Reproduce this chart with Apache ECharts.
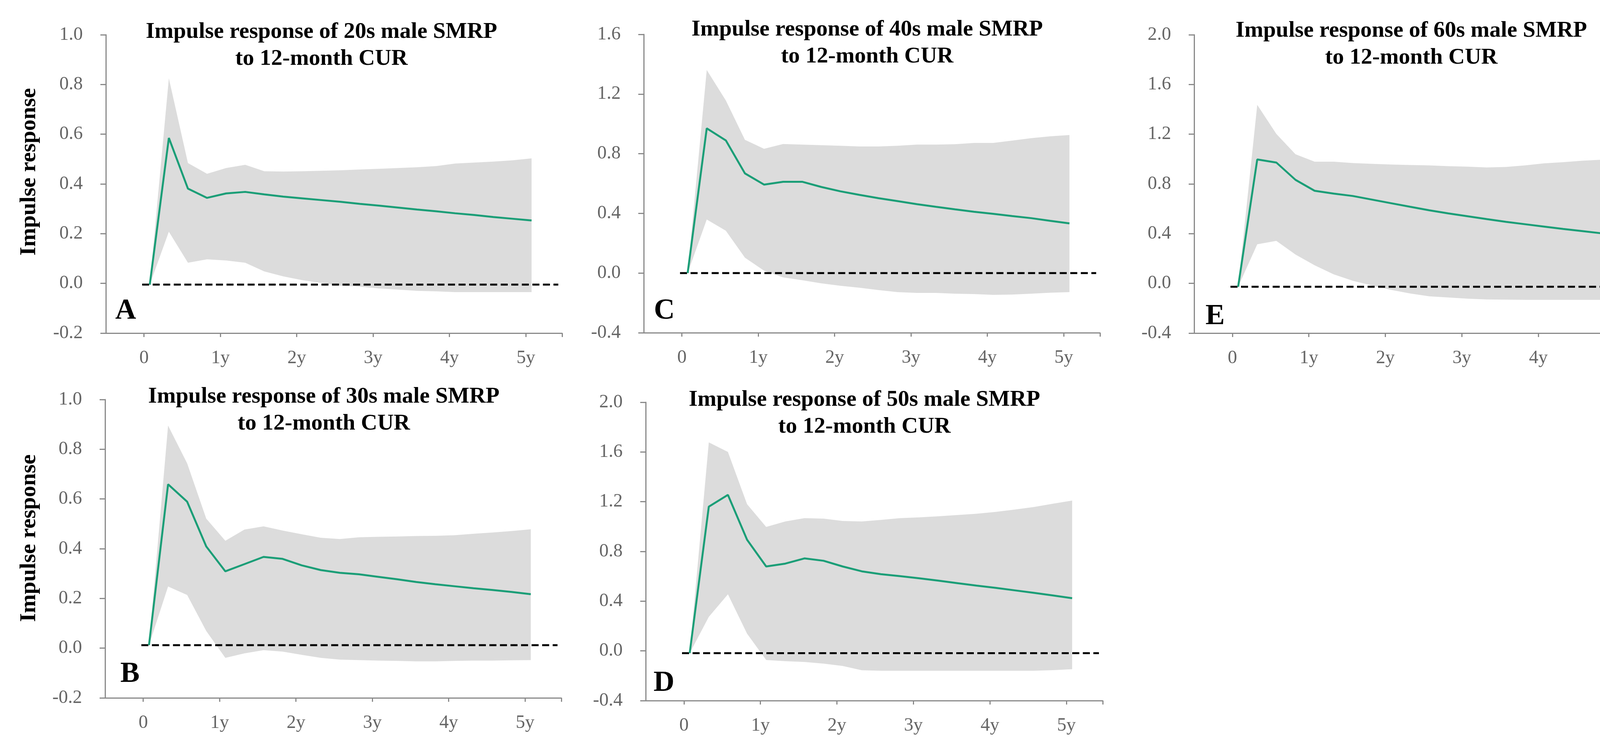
<!DOCTYPE html>
<html>
<head>
<meta charset="utf-8">
<script src="https://cdn.jsdelivr.net/npm/echarts@6/dist/echarts.min.js"></script>
<style>
html,body{margin:0;padding:0;background:#fff;}
#chart{width:4270px;height:1923px;}
</style>
</head>
<body>
<div id="chart"></div>
<script>
// ---------------- DATA ----------------
const quarters = [0,1,2,3,4,5,6,7,8,9,10,11,12,13,14,15,16,17,18,19,20];
const xTickQuarters = [0,4,8,12,16,20];
const xTickLabels = ['0','1y','2y','3y','4y','5y'];

const mean20s  = [-0.005,0.585,0.381,0.344,0.362,0.368,0.358,0.349,0.342,0.335,0.328,0.320,0.313,0.305,0.297,0.290,0.282,0.275,0.267,0.260,0.253];
const upper20s = [-0.005,0.825,0.484,0.441,0.464,0.477,0.451,0.450,0.451,0.453,0.455,0.458,0.461,0.464,0.467,0.472,0.482,0.486,0.490,0.495,0.503];
const lower20s = [-0.005,0.208,0.083,0.097,0.092,0.083,0.048,0.028,0.013,0.002,-0.009,-0.013,-0.020,-0.025,-0.030,-0.032,-0.035,-0.035,-0.035,-0.035,-0.035];

const mean30s  = [0.012,0.659,0.589,0.409,0.309,0.338,0.367,0.359,0.333,0.314,0.303,0.297,0.287,0.277,0.266,0.257,0.249,0.241,0.234,0.226,0.217];
const upper30s = [0.012,0.895,0.743,0.521,0.432,0.477,0.490,0.473,0.458,0.444,0.439,0.446,0.448,0.449,0.451,0.452,0.454,0.460,0.465,0.471,0.478];
const lower30s = [0.012,0.248,0.214,0.069,-0.039,-0.021,-0.008,-0.014,-0.027,-0.039,-0.046,-0.048,-0.050,-0.051,-0.053,-0.053,-0.051,-0.050,-0.050,-0.049,-0.048];

const mean40s  = [0,0.970,0.889,0.668,0.593,0.612,0.612,0.577,0.548,0.524,0.502,0.482,0.462,0.444,0.427,0.411,0.397,0.382,0.368,0.350,0.333];
const upper40s = [0,1.361,1.157,0.893,0.833,0.865,0.861,0.857,0.853,0.849,0.849,0.853,0.861,0.861,0.864,0.872,0.872,0.888,0.904,0.917,0.925];
const lower40s = [0,0.359,0.284,0.103,0.016,-0.029,-0.048,-0.069,-0.085,-0.098,-0.114,-0.128,-0.133,-0.133,-0.138,-0.141,-0.146,-0.144,-0.138,-0.132,-0.128];

const mean50s  = [-0.018,1.160,1.255,0.894,0.679,0.702,0.744,0.725,0.679,0.640,0.617,0.601,0.584,0.565,0.545,0.525,0.507,0.487,0.467,0.446,0.424];
const upper50s = [-0.018,1.677,1.600,1.180,0.997,1.041,1.068,1.064,1.045,1.041,1.054,1.068,1.074,1.083,1.093,1.103,1.118,1.137,1.157,1.184,1.209];
const lower50s = [-0.018,0.274,0.455,0.139,-0.073,-0.083,-0.089,-0.102,-0.121,-0.156,-0.160,-0.160,-0.160,-0.160,-0.160,-0.160,-0.160,-0.160,-0.160,-0.155,-0.147];

const mean60s  = [-0.027,0.997,0.972,0.833,0.745,0.722,0.703,0.674,0.645,0.616,0.588,0.563,0.540,0.517,0.495,0.476,0.457,0.438,0.421,0.403,0.386];
const upper60s = [-0.027,1.436,1.202,1.039,0.979,0.979,0.968,0.962,0.956,0.952,0.949,0.943,0.939,0.933,0.937,0.949,0.966,0.975,0.987,0.995,1.000];
const lower60s = [-0.027,0.315,0.342,0.232,0.146,0.073,0.021,-0.017,-0.052,-0.081,-0.104,-0.113,-0.123,-0.129,-0.131,-0.132,-0.132,-0.132,-0.132,-0.132,-0.132];

// zero reference (dashed) level as drawn in each panel
const zeroLevels = [-0.005, 0.012, 0, -0.018, -0.027];

const titles = [
  'Impulse response of 20s male SMRP\nto 12-month CUR',
  'Impulse response of 30s male SMRP\nto 12-month CUR',
  'Impulse response of 40s male SMRP\nto 12-month CUR',
  'Impulse response of 50s male SMRP\nto 12-month CUR',
  'Impulse response of 60s male SMRP\nto 12-month CUR'
];
const letters = ['A','B','C','D','E'];
const yAxisName = 'Impulse response';

// ---------------- LAYOUT / STYLE ----------------
const FONT = '"Liberation Serif","Times New Roman",serif';
const GREEN = '#1b9e77';
const BAND = '#dcdcdc';
const AXIS = '#8a8a8a';
const LABEL = '#666666';
const X_MIN = -2, X_MAX = 21.9;   // visible axis extent (quarters)
const SHIFT = 0.3;                // plotted curves sit slightly right of the tick marks
const DASH_FROM = -0.1, DASH_TO = 21.7;

const panels = [
  {mean:mean20s, upper:upper20s, lower:lower20s, yMin:-0.2, yMax:1.0, yStep:0.2,
   grid:{left:271, top:89, width:1168, height:764}, title:[823,48], letter:[295,797], yName:[75,440]},
  {mean:mean30s, upper:upper30s, lower:lower30s, yMin:-0.2, yMax:1.0, yStep:0.2,
   grid:{left:269, top:1023, width:1168, height:764}, title:[829,982], letter:[308,1727], yName:[75,1378]},
  {mean:mean40s, upper:upper40s, lower:lower40s, yMin:-0.4, yMax:1.6, yStep:0.4,
   grid:{left:1648, top:88, width:1168, height:764}, title:[2220,42], letter:[1674,797]},
  {mean:mean50s, upper:upper50s, lower:lower50s, yMin:-0.4, yMax:2.0, yStep:0.4,
   grid:{left:1653, top:1030, width:1170, height:764}, title:[2213,990], letter:[1673,1750]},
  {mean:mean60s, upper:upper60s, lower:lower60s, yMin:-0.4, yMax:2.0, yStep:0.4,
   grid:{left:3057, top:89, width:1170, height:764}, title:[3613,45], letter:[3086,811]}
];

const grid = [], xAxis = [], yAxis = [], series = [], graphic = [];

panels.forEach((p, k) => {
  grid.push(Object.assign({containLabel:false, outerBoundsMode:'none'}, p.grid));
  // visible axis for ticks/labels
  xAxis.push({
    type:'value', gridIndex:k, min:X_MIN, max:X_MAX,
    axisLine:{show:true, onZero:false, lineStyle:{color:AXIS, width:3}},
    axisTick:{show:true, length:10, lineStyle:{color:AXIS, width:3},
              customValues: xTickQuarters.concat([X_MAX])},
    axisLabel:{show:true, margin:40, fontFamily:FONT, fontSize:48, color:LABEL,
               customValues: xTickQuarters,
               formatter: v => { const i = xTickQuarters.indexOf(Math.round(v)); return i >= 0 ? xTickLabels[i] : ''; }},
    splitLine:{show:false}
  });
  // hidden axis the curves are plotted on
  xAxis.push({type:'value', gridIndex:k, min:X_MIN - SHIFT, max:X_MAX - SHIFT, show:false});
  yAxis.push({
    type:'value', gridIndex:k, min:p.yMin, max:p.yMax, interval:p.yStep,
    axisLine:{show:true, onZero:false, lineStyle:{color:AXIS, width:3}},
    axisTick:{show:true, length:14, lineStyle:{color:AXIS, width:3}},
    axisLabel:{show:true, margin:59, fontFamily:FONT, fontSize:48, color:LABEL,
               formatter: v => v.toFixed(1)},
    splitLine:{show:false}
  });

  const visX = 2*k, dataX = 2*k + 1;
  // confidence band: one polygon through upper (forward) and lower (backward) points
  series.push({
    type:'custom', coordinateSystem:'cartesian2d', xAxisIndex:dataX, yAxisIndex:k,
    data: quarters.map((q,i) => [q, p.lower[i], p.upper[i]]),
    encode:{x:0, y:[1,2]},
    silent:true, z:1,
    renderItem: (params, api) => {
      if (params.dataIndex !== 0) return null;
      const pts = [];
      for (let i = 0; i < quarters.length; i++) pts.push(api.coord([quarters[i], p.upper[i]]));
      for (let i = quarters.length - 1; i >= 0; i--) pts.push(api.coord([quarters[i], p.lower[i]]));
      return {type:'polygon', shape:{points:pts}, style:{fill:BAND, stroke:null}};
    }
  });
  series.push({
    type:'line', xAxisIndex:visX, yAxisIndex:k,
    data: [[DASH_FROM, zeroLevels[k]], [DASH_TO, zeroLevels[k]]],
    symbol:'none', lineStyle:{color:'#000', width:5, type:[18,9]}, silent:true, z:3
  });
  series.push({
    type:'line', xAxisIndex:dataX, yAxisIndex:k,
    data: quarters.map((q,i) => [q, p.mean[i]]),
    symbol:'none', lineStyle:{color:GREEN, width:5}, silent:true, z:4
  });

  graphic.push({
    type:'text', x:p.title[0], y:p.title[1], z:10,
    style:{text:titles[k], fontFamily:FONT, fontSize:58, fontWeight:'bold', fill:'#000',
           lineHeight:69, align:'center', verticalAlign:'top'}
  });
  graphic.push({
    type:'text', x:p.letter[0], y:p.letter[1], z:10,
    style:{text:letters[k], fontFamily:FONT, fontSize:74, fontWeight:'bold', fill:'#000',
           align:'left', verticalAlign:'middle'}
  });
  if (p.yName) {
    graphic.push({
      type:'text', x:p.yName[0], y:p.yName[1], rotation:Math.PI/2, z:10,
      style:{text:yAxisName, fontFamily:FONT, fontSize:58, fontWeight:'bold', fill:'#000',
             align:'center', verticalAlign:'middle'}
    });
  }
});

const chart = echarts.init(document.getElementById('chart'), null, {renderer:'canvas'});
chart.setOption({
  animation:false,
  backgroundColor:'#ffffff',
  grid, xAxis, yAxis, series, graphic
});
</script>
</body>
</html>
